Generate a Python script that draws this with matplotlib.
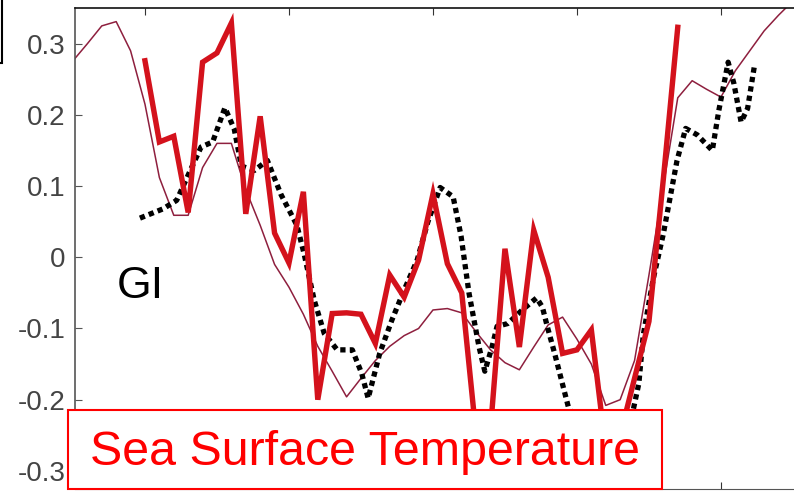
import matplotlib.pyplot as plt
from matplotlib.patches import Rectangle

plt.rcParams['font.family'] = ['Liberation Sans', 'DejaVu Sans']

# thick red series, one value per step starting at step 0
sst_steps = list(range(0, 38))
sst_values = [0.276, 0.162, 0.170, 0.063, 0.274, 0.287, 0.329, 0.061, 0.198, 0.034,
              -0.008, 0.092, -0.200, -0.079, -0.078, -0.080, -0.121, -0.025, -0.056, -0.004,
              0.089, -0.009, -0.050, -0.250, -0.240, 0.012, -0.126, 0.038, -0.028, -0.135,
              -0.130, -0.102, -0.270, -0.250, -0.170, -0.090, 0.110, 0.323]

# thin maroon series, steps -5 .. 45
thin_steps = list(range(-5, 46))
thin_values = [0.276, 0.300, 0.325, 0.331, 0.290, 0.215, 0.112, 0.059, 0.059, 0.126,
               0.160, 0.160, 0.095, 0.045, -0.010, -0.042, -0.080, -0.125, -0.160, -0.196,
               -0.170, -0.145, -0.125, -0.110, -0.100, -0.074, -0.072, -0.078, -0.105, -0.130,
               -0.148, -0.158, -0.126, -0.095, -0.084, -0.115, -0.150, -0.208, -0.200, -0.145,
               -0.025, 0.100, 0.224, 0.248, 0.236, 0.225, 0.262, 0.290, 0.318, 0.340, 0.360]

# dotted black series (GI)
gi_steps = [-0.35, 1.25, 2.2, 3.1, 3.9, 4.7, 5.55, 6.2, 6.7, 7.6, 8.5, 9.45, 10.55, 11.05,
            11.75, 12.45, 13.35, 14.4, 15.05, 15.5, 16.3, 17.15, 18.0, 18.9, 19.65, 20.5,
            21.4, 21.95, 22.5, 23.2, 23.6, 24.1, 24.45, 25.2, 26.2, 27.2, 27.6, 27.95, 28.45,
            29.4, 31.5, 33.9, 34.3, 34.6, 35.3, 36.0, 36.95, 37.55, 38.35, 39.4, 39.85, 40.5,
            40.9, 41.4, 41.85, 42.35]
gi_values = [0.055, 0.068, 0.080, 0.120, 0.155, 0.162, 0.210, 0.180, 0.128, 0.122, 0.136,
             0.088, 0.045, 0.005, -0.060, -0.107, -0.130, -0.130, -0.163, -0.198, -0.135,
             -0.088, -0.046, -0.004, 0.050, 0.098, 0.085, 0.030, -0.050, -0.126, -0.160,
             -0.126, -0.097, -0.093, -0.074, -0.057, -0.070, -0.098, -0.135, -0.210, -0.280,
             -0.215, -0.177, -0.110, -0.030, 0.033, 0.136, 0.181, 0.172, 0.150, 0.206, 0.274,
             0.244, 0.190, 0.209, 0.272]

y_ticks = [-0.3, -0.2, -0.1, 0, 0.1, 0.2, 0.3]
y_labels = ['-0.3', '-0.2', '-0.1', '0', '0.1', '0.2', '0.3']
x_ticks = [0, 10, 20, 30, 40]

W, H = 794, 492
fig = plt.figure(figsize=(W / 100, H / 100), dpi=100)
ax = fig.add_axes([75 / W, 3.3 / H, 725 / W, 480.4 / H])

ax.plot(thin_steps, thin_values, color='#8e1f3e', lw=1.1, zorder=2)
ax.plot(gi_steps, gi_values, color='black', lw=3.8, dashes=(1, 0.8), zorder=3)
ax.plot(sst_steps, sst_values, color='#d4121c', lw=3.9, solid_joinstyle='miter', zorder=4)

ax.set_xlim(-4.86, 45.49)
ax.set_ylim(-0.325, 0.3497)
ax.set_xticks(x_ticks)
ax.set_yticks(y_ticks)
ax.set_yticklabels(y_labels)
ax.tick_params(axis='x', direction='in', length=5, top=True, bottom=True,
               labelbottom=False, color='#333333')
ax.tick_params(axis='y', direction='in', length=5, right=False, labelsize=20,
               labelcolor='#444444', pad=7, color='#555555')
ax.spines['right'].set_visible(False)
ax.spines['top'].set_color('#111111')
ax.spines['top'].set_linewidth(1.2)
ax.spines['left'].set_color('#555555')
ax.spines['left'].set_linewidth(1.2)
ax.spines['bottom'].set_color('#555555')

# GI label inside the plot
fig.text(117 / W, 1 - 298 / H, 'GI', fontsize=32, color='black', va='baseline', ha='left')

# Sea Surface Temperature box drawn over the lines
fig.add_artist(Rectangle((68 / W, 1 - 489 / H), 594 / W, 79 / H, transform=fig.transFigure,
                         facecolor='white', edgecolor='#ff0000', lw=1.5, zorder=5))
fig.text(90 / W, 1 - 465 / H, 'Sea Surface Temperature', fontsize=34.8, color='#ff0000',
         va='baseline', ha='left', zorder=6)

# fragment of a box cut off at the top left corner
fig.add_artist(Rectangle((-20 / W, 1 - 63 / H), 22 / W, 80 / H, transform=fig.transFigure,
                         facecolor='white', edgecolor='black', lw=1.5, zorder=5))

fig.savefig('out.png', dpi=100)
